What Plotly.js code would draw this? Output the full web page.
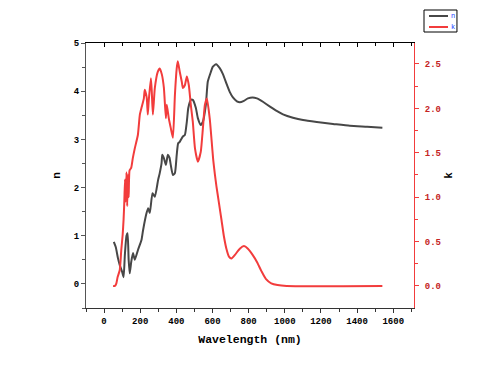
<!DOCTYPE html>
<html>
<head>
<meta charset="utf-8">
<script src="https://cdn.plot.ly/plotly-3.0.1.min.js"></script>
<style>html,body{margin:0;padding:0;background:#fff;}#chart{width:482px;height:371px;}</style>
</head>
<body>
<div id="chart"></div>
<script>
// Refractive index n (left axis)
const wlN = [54, 65, 77, 87, 100, 108, 115, 124, 130, 136, 142, 150, 160, 170, 188, 207, 216, 235, 244, 253, 268, 281, 299, 308, 318, 322, 331, 342, 353, 362, 369, 381, 392, 402, 410, 419, 436, 447, 458, 466, 480, 491, 508, 519, 535, 547, 563, 574, 591, 602, 620, 640, 657, 679, 696, 713, 735, 751, 774, 796, 822, 846, 862, 879, 918, 955, 990, 1045, 1101, 1177, 1267, 1360, 1456, 1540];
const nVals = [0.87, 0.76, 0.53, 0.39, 0.25, 0.14, 0.6, 1.0, 1.05, 0.5, 0.22, 0.45, 0.64, 0.5, 0.71, 0.91, 1.12, 1.47, 1.57, 1.47, 1.88, 1.81, 2.16, 2.30, 2.50, 2.68, 2.61, 2.47, 2.68, 2.62, 2.47, 2.26, 2.30, 2.68, 2.92, 2.95, 3.06, 3.09, 3.37, 3.65, 3.82, 3.82, 3.65, 3.44, 3.30, 3.37, 3.71, 4.20, 4.40, 4.51, 4.56, 4.48, 4.36, 4.14, 3.98, 3.87, 3.79, 3.77, 3.80, 3.85, 3.87, 3.85, 3.82, 3.78, 3.68, 3.59, 3.52, 3.45, 3.40, 3.36, 3.32, 3.28, 3.26, 3.24];
// Extinction coefficient k (right axis)
const wlK = [50, 60, 68, 75, 87, 95, 103, 108, 112, 116, 120, 124, 128, 132, 136, 141, 150, 159, 170, 187, 198, 209, 220, 225, 236, 242, 247, 259, 264, 270, 281, 297, 308, 320, 331, 342, 347, 358, 369, 381, 392, 402, 408, 419, 430, 436, 447, 458, 469, 480, 491, 503, 519, 535, 547, 558, 569, 585, 595, 604, 613, 622, 636, 650, 663, 678, 691, 705, 724, 751, 774, 796, 822, 846, 870, 895, 925, 960, 1010, 1540];
const kVals = [0, 0, 0.03, 0.1, 0.18, 0.4, 0.58, 0.75, 0.95, 1.2, 0.95, 1.28, 0.9, 1.25, 1.0, 1.3, 1.33, 1.44, 1.55, 1.70, 1.93, 2.02, 2.11, 2.21, 2.12, 1.93, 2.08, 2.34, 2.19, 1.93, 2.23, 2.41, 2.45, 2.38, 2.23, 1.89, 2.04, 1.89, 1.78, 1.67, 2.15, 2.45, 2.53, 2.41, 2.30, 2.23, 2.26, 2.36, 2.26, 2.04, 1.85, 1.55, 1.40, 1.51, 1.78, 2.04, 2.11, 1.88, 1.64, 1.42, 1.26, 1.12, 0.93, 0.74, 0.56, 0.41, 0.33, 0.31, 0.35, 0.42, 0.45, 0.42, 0.35, 0.27, 0.17, 0.08, 0.03, 0.01, 0, 0];
const seriesNames = ['n', 'k'];

const nColor = '#474747';
const kColor = '#f23c3c';
const mono = 'Liberation Mono, DejaVu Sans Mono, monospace';

const traces = [
  {x: wlN, y: nVals, name: seriesNames[0], type: 'scatter', mode: 'lines',
   line: {color: nColor, width: 2, shape: 'spline', smoothing: 0.5}, xaxis: 'x', yaxis: 'y'},
  {x: wlK, y: kVals, name: seriesNames[1], type: 'scatter', mode: 'lines',
   line: {color: kColor, width: 2, shape: 'spline', smoothing: 0.5}, xaxis: 'x', yaxis: 'y2'},
  {x: [], y: [], xaxis: 'x2', yaxis: 'y', showlegend: false, hoverinfo: 'skip'}
];

// compact legend box (paper coordinates)
const legBox = {x0: 1.0305, x1: 1.131, y0: 1.0415, y1: 1.1245};
const legRows = [1.1019, 1.0604];
const legColors = [nColor, kColor];
const shapes = [{type: 'rect', xref: 'paper', yref: 'paper', x0: legBox.x0, x1: legBox.x1,
                 y0: legBox.y0, y1: legBox.y1, line: {color: '#000', width: 1}, fillcolor: '#fff'}];
const annotations = [];
seriesNames.forEach((nm, i) => {
  shapes.push({type: 'line', xref: 'paper', yref: 'paper', x0: 1.0457, x1: 1.1037,
               y0: legRows[i], y1: legRows[i], line: {color: legColors[i], width: 2}});
  annotations.push({xref: 'paper', yref: 'paper', x: 1.1204, y: legRows[i], text: nm,
                    showarrow: false, xanchor: 'center', yanchor: 'middle',
                    font: {family: mono, size: 7, color: '#1a3cff'}});
});

const layout = {
  width: 482, height: 371,
  margin: {l: 86, r: 68, t: 43, b: 63},
  paper_bgcolor: '#fff', plot_bgcolor: '#fff',
  font: {family: mono, size: 9, color: '#000'},
  showlegend: false,
  shapes: shapes,
  annotations: annotations,
  xaxis: {range: [-100, 1715], tick0: 0, dtick: 200, ticks: 'outside', ticklen: 4,
          tickwidth: 1, tickcolor: '#333', showline: true, linecolor: '#333', linewidth: 1,
          showgrid: false, zeroline: false,
          minor: {dtick: 100, ticks: 'outside', ticklen: 3, tickcolor: '#333', showgrid: false},
          tickfont: {family: mono, size: 9, color: '#000', weight: 'bold'},
          title: {text: '<b>Wavelength (nm)</b>', font: {family: mono, size: 11.5, color: '#000'}, standoff: 9}},
  xaxis2: {overlaying: 'x', matches: 'x', side: 'top', anchor: 'y', range: [-100, 1715],
           tick0: 0, dtick: 200, ticks: 'inside', ticklen: 4, tickcolor: '#000',
           showticklabels: false, showline: true, linecolor: '#000', linewidth: 1,
           showgrid: false, zeroline: false,
           minor: {dtick: 100, ticks: 'inside', ticklen: 3, tickcolor: '#000', showgrid: false}},
  yaxis: {range: [-0.5, 5], tick0: 0, dtick: 1, ticks: 'outside', ticklen: 4,
          tickcolor: '#555', showline: true, linecolor: '#555', linewidth: 1,
          showgrid: false, zeroline: false,
          minor: {dtick: 0.5, ticks: 'outside', ticklen: 3, tickcolor: '#555', showgrid: false},
          tickfont: {family: mono, size: 9, color: '#000', weight: 'bold'},
          title: {text: '<b>n</b>', font: {family: mono, size: 11, color: '#000'}, standoff: 10}},
  yaxis2: {overlaying: 'y', side: 'right', anchor: 'x', range: [-0.248, 2.736],
           tick0: 0, dtick: 0.5, tickformat: '.1f', ticks: 'outside', ticklen: 4,
           tickcolor: kColor, showline: true, linecolor: kColor, linewidth: 1,
           showgrid: false, zeroline: false, ticklabelstandoff: 4,
           minor: {dtick: 0.25, ticks: 'outside', ticklen: 3, tickcolor: kColor, showgrid: false},
           tickfont: {family: mono, size: 9, color: '#c42424', weight: 'bold'},
           title: {text: '<b>k</b>', font: {family: mono, size: 11, color: '#000'}, standoff: 4}}
};

Plotly.newPlot('chart', traces, layout, {displayModeBar: false, staticPlot: true});
</script>
</body>
</html>
